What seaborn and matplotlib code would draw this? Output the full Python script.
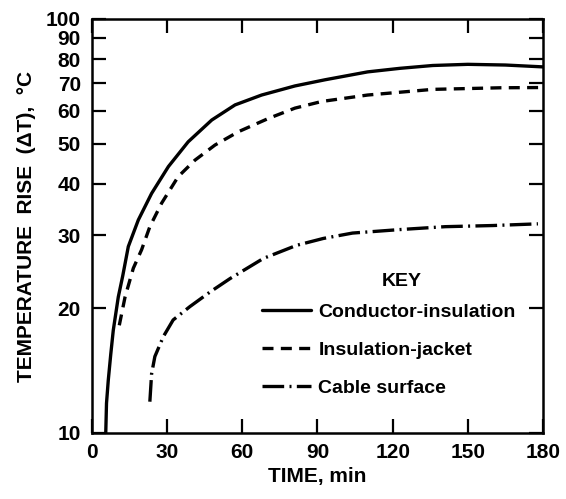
import numpy as np
import pandas as pd
import matplotlib
matplotlib.use("Agg")
import matplotlib.pyplot as plt
import seaborn as sns

# values (time in min, temperature rise in deg C)
cond_time = [5.5, 5.8, 6.5, 7.5, 8.5, 10.5, 12.3, 14.5, 18.5, 23.8, 30.5, 38.4, 47.8, 57.1,
             67.7, 81, 93, 110, 123, 136, 150, 165, 180]
cond_temp = [10, 11.8, 13.4, 15.5, 17.7, 21.3, 24.0, 28.2, 32.7, 37.9, 44.0, 50.5, 57.0, 62.0,
             65.5, 68.9, 71.3, 74.5, 76.0, 77.2, 77.7, 77.4, 76.6]

jacket_time = [10.9, 13.2, 16.5, 19.8, 23.1, 27.8, 34.4, 41.1, 49.1, 58.4, 70.4, 81, 91.7,
               110, 136, 163, 180]
jacket_temp = [18.2, 21.3, 25.0, 27.7, 31.5, 35.9, 41.6, 45.6, 49.6, 53.4, 57.5, 60.9, 63.2,
               65.5, 67.6, 68.2, 68.3]

surface_time = [23.1, 23.8, 25.1, 28.5, 32.4, 39.1, 47.1, 55.1, 68.4, 81.7, 92.3, 104, 123,
                141, 160, 178]
surface_temp = [11.9, 13.9, 15.3, 17.1, 18.75, 20.2, 21.9, 23.6, 26.4, 28.4, 29.5, 30.4, 31.0,
                31.5, 31.7, 32.0]

labels = ["Conductor-insulation", "Insulation-jacket", "Cable surface"]
y_ticks = [10, 20, 30, 40, 50, 60, 70, 80, 90, 100]
x_ticks = [0, 30, 60, 90, 120, 150, 180]

df = pd.concat([
    pd.DataFrame({"time": cond_time, "temp": cond_temp, "series": labels[0]}),
    pd.DataFrame({"time": jacket_time, "temp": jacket_temp, "series": labels[1]}),
    pd.DataFrame({"time": surface_time, "temp": surface_temp, "series": labels[2]}),
], ignore_index=True)

sns.set_style("ticks")
plt.rcParams["font.family"] = ["Liberation Sans", "DejaVu Sans"]
plt.rcParams["font.weight"] = "bold"
plt.rcParams["axes.labelweight"] = "bold"
plt.rcParams["text.color"] = "black"
plt.rcParams["axes.labelcolor"] = "black"

fig = plt.figure(figsize=(5.66, 4.99), dpi=100)
ax = fig.add_axes([0.1625, 0.1323, 0.7968, 0.8297])

dash_styles = {labels[0]: "", labels[1]: (3.3, 2.2), labels[2]: (6.5, 1.6, 0.6, 1.6)}
sns.lineplot(data=df, x="time", y="temp", style="series", dashes=dash_styles,
             color="black", linewidth=2.4, sort=False, estimator=None, ax=ax, legend=True)

ax.set_yscale("log")
ax.set_xlim(0, 180)
ax.set_ylim(10, 100)
ax.set_xticks(x_ticks)
ax.set_yticks(y_ticks)
ax.set_yticklabels([str(v) for v in y_ticks])
ax.yaxis.set_minor_locator(matplotlib.ticker.NullLocator())
ax.tick_params(axis="both", which="major", direction="in", length=10, width=1.6,
               labelsize=15, colors="black", top=True, right=True)
ax.tick_params(axis="y", pad=8)
ax.tick_params(axis="x", pad=7)
for sp in ax.spines.values():
    sp.set_linewidth(1.8)
    sp.set_color("black")

ax.set_xlabel("TIME, min", fontsize=15, labelpad=4)
ax.set_ylabel("TEMPERATURE  RISE  (ΔT),  °C", fontsize=15, labelpad=7)

# key title placed on its own so the gap to the rows can be set freely
ax.text(0.687, 0.365, "KEY", transform=ax.transAxes, ha="center", va="center",
        fontsize=14, fontweight="bold", color="black")

handles, _ = ax.get_legend_handles_labels()
leg = ax.legend(handles[-3:], labels, loc="center left",
                bbox_to_anchor=(0.377, 0.2005), borderaxespad=0, borderpad=0,
                frameon=False, fontsize=14, handlelength=2.5,
                handletextpad=0.4, labelspacing=1.05)
for line in leg.get_lines():
    line.set_linewidth(2.4)
    line.set_color("black")
for t in leg.get_texts():
    t.set_color("black")

fig.savefig("out.png", dpi=100)
